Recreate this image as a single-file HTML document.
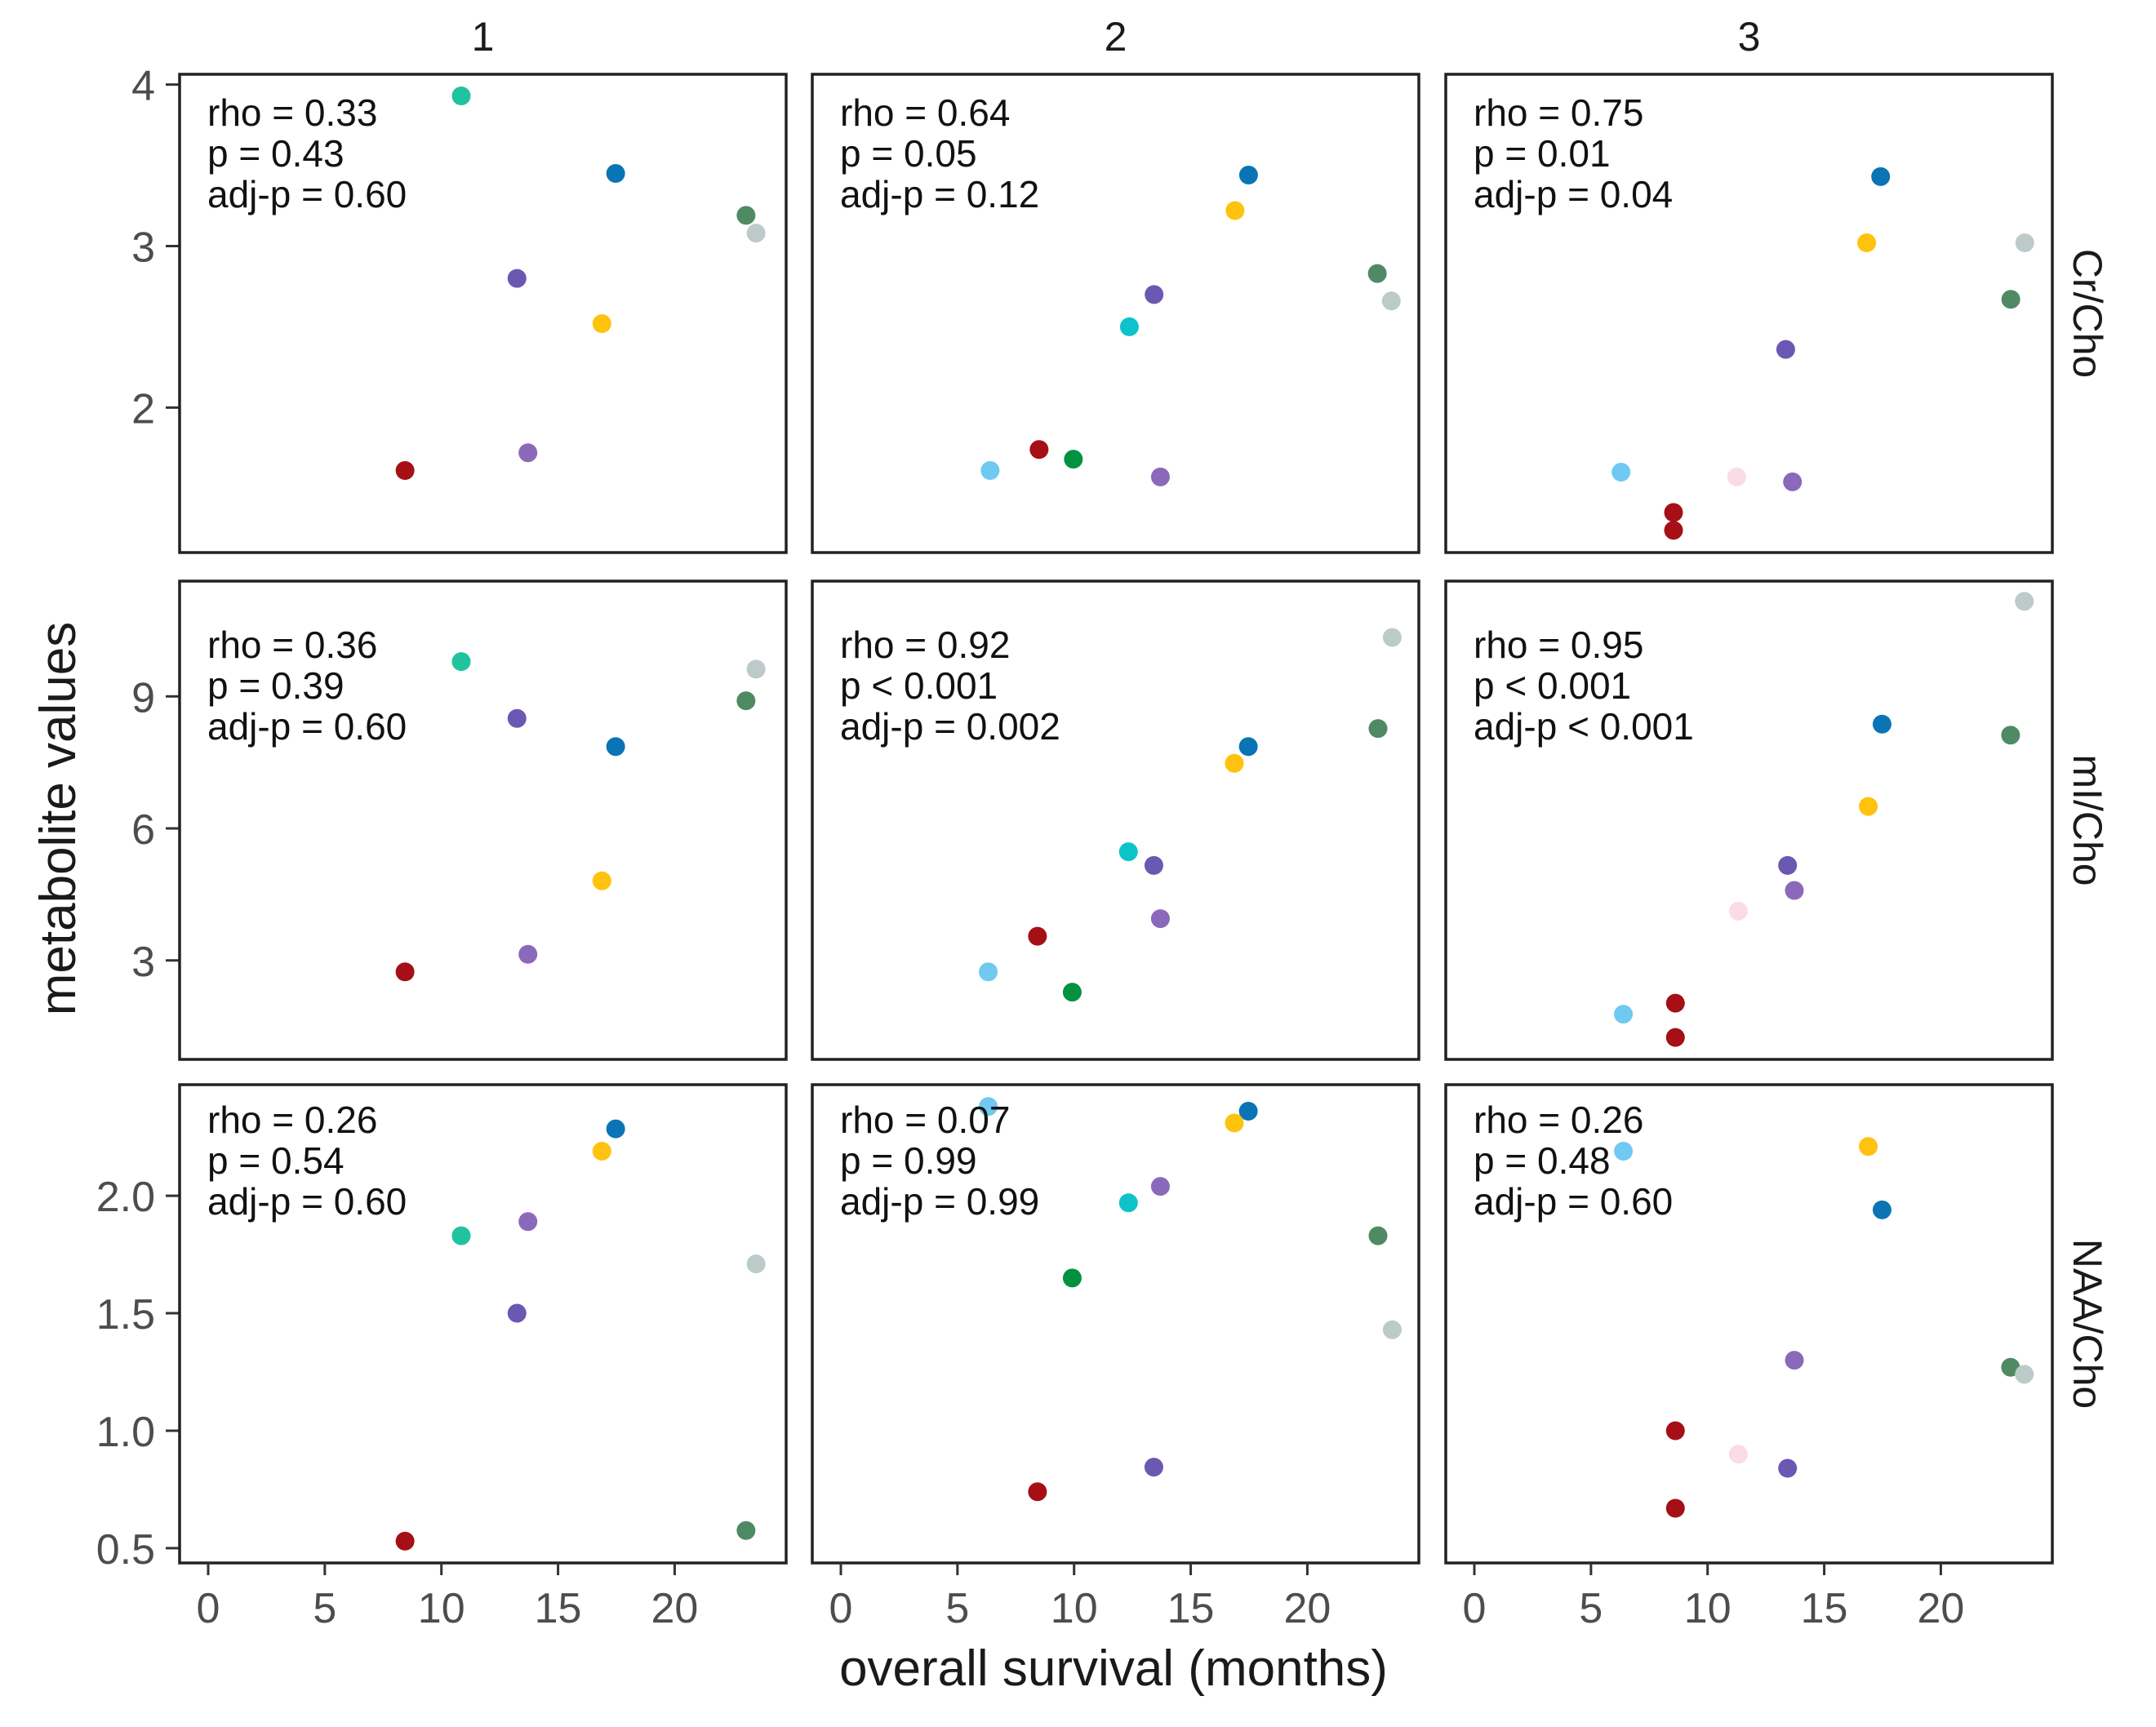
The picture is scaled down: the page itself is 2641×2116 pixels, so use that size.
<!DOCTYPE html>
<html><head><meta charset="utf-8"><style>
html,body{margin:0;padding:0;background:#fff;}
svg{display:block;font-family:"Liberation Sans",Arial,sans-serif;}
</style></head><body>
<svg id="chart" width="2641" height="2116" viewBox="0 0 2641 2116" xmlns="http://www.w3.org/2000/svg">
<rect width="2641" height="2116" fill="#fff"/>
<text x="1364" y="2065" font-size="62" text-anchor="middle" fill="#1a1a1a">overall survival (months)</text>
<text transform="translate(92,1003) rotate(-90)" font-size="62" text-anchor="middle" fill="#1a1a1a">metabolite values</text>
</svg>
<script>
const colNames = ["1", "2", "3"];
const rowNames = ["Cr/Cho", "mI/Cho", "NAA/Cho"];
const xTicks = [0, 5, 10, 15, 20];
const yTicksCr = [2, 3, 4];
const yTicksMi = [3, 6, 9];
const yTicksNaa = ["0.5", "1.0", "1.5", "2.0"];
const statsCr = [["rho = 0.33","p = 0.43","adj-p = 0.60"],["rho = 0.64","p = 0.05","adj-p = 0.12"],["rho = 0.75","p = 0.01","adj-p = 0.04"]];
const statsMi = [["rho = 0.36","p = 0.39","adj-p = 0.60"],["rho = 0.92","p < 0.001","adj-p = 0.002"],["rho = 0.95","p < 0.001","adj-p < 0.001"]];
const statsNaa = [["rho = 0.26","p = 0.54","adj-p = 0.60"],["rho = 0.07","p = 0.99","adj-p = 0.99"],["rho = 0.26","p = 0.48","adj-p = 0.60"]];

// Cr/Cho
const xCr1 = [10.85, 17.47, 23.06, 23.49, 13.24, 16.88, 13.71, 8.44];
const yCr1 = [3.93, 3.45, 3.19, 3.08, 2.80, 2.52, 1.72, 1.61];
const gCr1 = ["teal","blue","dkgreen","grey","purple1","yellow","purple2","red"];
const xCr2 = [17.48, 16.9, 23.0, 23.6, 13.43, 12.37, 8.5, 9.97, 6.4, 13.7];
const yCr2 = [3.44, 3.22, 2.83, 2.66, 2.70, 2.50, 1.74, 1.68, 1.61, 1.57];
const gCr2 = ["blue","yellow","dkgreen","grey","purple1","cyan","red","green","ltblue","purple2"];
const xCr3 = [17.42, 16.82, 23.6, 23.0, 13.35, 6.29, 11.25, 13.64, 8.54, 8.54];
const yCr3 = [3.43, 3.02, 3.02, 2.67, 2.36, 1.60, 1.57, 1.54, 1.35, 1.24];
const gCr3 = ["blue","yellow","grey","dkgreen","purple1","ltblue","pink","purple2","red","red"];
// mI/Cho
const xMi1 = [10.85, 23.49, 23.06, 13.24, 17.47, 16.88, 13.71, 8.44];
const yMi1 = [9.79, 9.62, 8.90, 8.50, 7.86, 4.81, 3.14, 2.74];
const gMi1 = ["teal","grey","dkgreen","purple1","blue","yellow","purple2","red"];
const xMi2 = [23.64, 23.03, 17.47, 16.87, 12.33, 13.42, 13.7, 8.43, 6.32, 9.92];
const yMi2 = [10.34, 8.27, 7.86, 7.48, 5.47, 5.16, 3.95, 3.55, 2.74, 2.28];
const gMi2 = ["grey","dkgreen","blue","yellow","cyan","purple1","purple2","red","ltblue","green"];
const xMi3 = [23.58, 17.48, 22.99, 16.89, 13.43, 13.72, 11.32, 8.62, 6.39, 8.62];
const yMi3 = [11.16, 8.37, 8.12, 6.5, 5.16, 4.59, 4.12, 2.03, 1.78, 1.25];
const gMi3 = ["grey","blue","dkgreen","yellow","purple1","purple2","pink","red","ltblue","red"];
// NAA/Cho
const xNaa1 = [17.47, 16.88, 13.71, 10.85, 23.49, 13.24, 23.06, 8.44];
const yNaa1 = [2.285, 2.19, 1.89, 1.83, 1.71, 1.50, 0.575, 0.53];
const gNaa1 = ["blue","yellow","purple2","teal","grey","purple1","dkgreen","red"];
const xNaa2 = [6.32, 17.47, 16.87, 13.7, 12.33, 23.03, 9.92, 23.64, 13.42, 8.43];
const yNaa2 = [2.38, 2.36, 2.31, 2.04, 1.97, 1.83, 1.65, 1.43, 0.845, 0.74];
const gNaa2 = ["ltblue","blue","yellow","purple2","cyan","dkgreen","green","grey","purple1","red"];
const xNaa3 = [6.39, 16.89, 17.48, 13.72, 22.99, 23.58, 8.62, 11.32, 13.43, 8.62];
const yNaa3 = [2.19, 2.21, 1.94, 1.30, 1.27, 1.24, 1.0, 0.90, 0.84, 0.67];
const gNaa3 = ["ltblue","yellow","blue","purple2","dkgreen","grey","red","pink","purple1","red"];

const palette = {teal:"#1fc39d",blue:"#0a74b5",dkgreen:"#4f8a64",grey:"#bccbc9",purple1:"#6a58b3",purple2:"#8c68bb",yellow:"#ffc20e",red:"#a50f15",green:"#00923f",cyan:"#0cc3c9",ltblue:"#6fc9f0",pink:"#fadbe7"};

const NS = "http://www.w3.org/2000/svg";
const svg = document.getElementById("chart");
function mk(tag, attrs, parent){const e=document.createElementNS(NS,tag);for(const k in attrs)e.setAttribute(k,attrs[k]);(parent||svg).appendChild(e);return e;}

const colLeft = [220, 995, 1771], panelW = 743;
const rowTop = [91, 712, 1329], panelH = 586;
const xDom = [-1.225, 24.78];
const yDoms = [[1.102, 4.064],[0.752, 11.62],[0.437, 2.473]];
const textOff = [63, 94, 59];
const yTickSets = [yTicksCr, yTicksMi, yTicksNaa];
const stats = [statsCr, statsMi, statsNaa];
const data = [[[xCr1,yCr1,gCr1],[xCr2,yCr2,gCr2],[xCr3,yCr3,gCr3]],
              [[xMi1,yMi1,gMi1],[xMi2,yMi2,gMi2],[xMi3,yMi3,gMi3]],
              [[xNaa1,yNaa1,gNaa1],[xNaa2,yNaa2,gNaa2],[xNaa3,yNaa3,gNaa3]]];

function xScale(c,v){return colLeft[c] + (v - xDom[0])/(xDom[1]-xDom[0])*panelW;}
function yScale(r,v){const d=yDoms[r];return rowTop[r] + panelH - (v - d[0])/(d[1]-d[0])*panelH;}

colNames.forEach((n,c)=>{
  const t = mk("text",{x:colLeft[c]+panelW/2,y:62,"font-size":50,"text-anchor":"middle",fill:"#1a1a1a"});
  
  
  t.textContent = n;
});
rowNames.forEach((n,r)=>{
  const cy = rowTop[r]+panelH/2;
  const t = mk("text",{transform:`translate(2540,${cy}) rotate(90)`,"font-size":50,"text-anchor":"middle",fill:"#1a1a1a"});
  
  
  t.textContent = n;
});

for(let r=0;r<3;r++){
  yTickSets[r].forEach(tv=>{
    const y = yScale(r, parseFloat(tv));
    const ln = mk("line",{x1:203,x2:220,y1:y,y2:y,stroke:"#333","stroke-width":3});
    
    
    const t = mk("text",{x:190,y:y+19,"font-size":52,"text-anchor":"end",fill:"#4d4d4d"});
    
    
    t.textContent = tv;
  });
  for(let c=0;c<3;c++){
    const g = mk("g",{});
    
    
    const [xs,ys,gs] = data[r][c];
    xs.forEach((xv,i)=>{
      const p = mk("circle",{cx:xScale(c,xv),cy:yScale(r,ys[i]),r:11.5,fill:palette[gs[i]]},g);
      
      
    });
    stats[r][c].forEach((s,i)=>{
      const t = mk("text",{x:colLeft[c]+34,y:rowTop[r]+textOff[r]+i*50,"font-size":46,fill:"#111"},g);
      
      
      t.textContent = s;
    });
    const b = mk("rect",{x:colLeft[c],y:rowTop[r],width:panelW,height:panelH,fill:"none",stroke:"#222","stroke-width":3.5},g);
    
    
  }
}
for(let c=0;c<3;c++){
  const yb = rowTop[2]+panelH;
  xTicks.forEach(tv=>{
    const x = xScale(c,tv);
    const ln = mk("line",{x1:x,x2:x,y1:yb,y2:yb+15,stroke:"#333","stroke-width":3});
    
    
    const t = mk("text",{x:x,y:1988,"font-size":52,"text-anchor":"middle",fill:"#4d4d4d"});
    
    
    t.textContent = tv;
  });
}
</script>
</body></html>
